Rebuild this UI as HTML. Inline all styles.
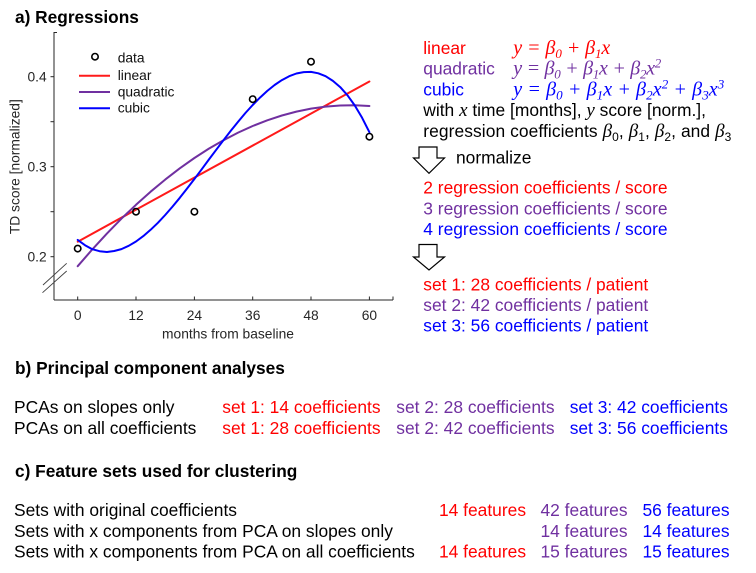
<!DOCTYPE html>
<html>
<head>
<meta charset="utf-8">
<style>
  html,body{margin:0;padding:0;background:#fff;}
  svg{display:block;}
  .t{font-family:"Liberation Sans",Arial,sans-serif;font-size:17.4px;fill:#000;}
  .h{font-family:"Liberation Sans",Arial,sans-serif;font-size:17.3px;font-weight:bold;fill:#000;}
  .c{font-family:"Liberation Sans",Arial,sans-serif;font-size:13.8px;fill:#262626;}
  .m{font-family:"Liberation Serif","DejaVu Serif",serif;font-style:italic;}
  .r{fill:#ff0000;}
  .p{fill:#7030a0;}
  .b{fill:#0000ff;}
</style>
</head>
<body>
<svg width="756" height="573" viewBox="0 0 756 573" xmlns="http://www.w3.org/2000/svg">
  <rect width="756" height="573" fill="#fff"/>

  <!-- a) title -->
  <text class="h" x="15" y="23">a) Regressions</text>

  <!-- axes -->
  <g stroke="#262626" stroke-width="1" fill="none">
    <line x1="54" y1="32" x2="54" y2="300"/>
    <line x1="54" y1="300" x2="393" y2="300"/>
    <line x1="54" y1="32.5" x2="57" y2="32.5"/>
    <line x1="50.5" y1="76.7" x2="54" y2="76.7"/>
    <line x1="50.5" y1="121.7" x2="54" y2="121.7"/>
    <line x1="50.5" y1="166.7" x2="54" y2="166.7"/>
    <line x1="50.5" y1="211.7" x2="54" y2="211.7"/>
    <line x1="50.5" y1="256.7" x2="54" y2="256.7"/>
    <line x1="77.7" y1="296.5" x2="77.7" y2="300"/>
    <line x1="136" y1="296.5" x2="136" y2="300"/>
    <line x1="194.4" y1="296.5" x2="194.4" y2="300"/>
    <line x1="252.7" y1="296.5" x2="252.7" y2="300"/>
    <line x1="311" y1="296.5" x2="311" y2="300"/>
    <line x1="369.4" y1="296.5" x2="369.4" y2="300"/>
    <line x1="393" y1="296.5" x2="393" y2="300"/>
  </g>
  <!-- axis break -->
  <g stroke="#404040" stroke-width="0.9">
    <line x1="43" y1="285" x2="66.7" y2="263.3"/>
    <line x1="42.5" y1="292.7" x2="66.7" y2="271"/>
  </g>

  <!-- tick labels -->
  <text class="c" x="46.7" y="81.7" text-anchor="end">0.4</text>
  <text class="c" x="46.7" y="171.7" text-anchor="end">0.3</text>
  <text class="c" x="46.7" y="261.7" text-anchor="end">0.2</text>
  <text class="c" x="77.7" y="320" text-anchor="middle">0</text>
  <text class="c" x="136" y="320" text-anchor="middle">12</text>
  <text class="c" x="194.4" y="320" text-anchor="middle">24</text>
  <text class="c" x="252.7" y="320" text-anchor="middle">36</text>
  <text class="c" x="311" y="320" text-anchor="middle">48</text>
  <text class="c" x="369.4" y="320" text-anchor="middle">60</text>
  <text class="c" x="228" y="338.5" text-anchor="middle">months from baseline</text>
  <text class="c" x="0" y="0" text-anchor="middle" transform="translate(19.5,166.7) rotate(-90)">TD score [normalized]</text>

  <!-- series -->
  <g fill="none" stroke-width="2" stroke-linejoin="round" stroke-linecap="round">
    <line x1="77.7" y1="241.7" x2="369.4" y2="81.5" stroke="#ff1a1a"/>
    <polyline stroke="#7030a0" points="77.7,266.2 92.3,249.4 106.9,233.6 121.4,218.7 136.0,204.8 150.6,191.7 165.2,179.6 179.8,168.3 194.4,158.0 208.9,148.6 223.5,140.2 238.1,132.6 252.7,126.0 267.3,120.3 281.9,115.5 296.4,111.6 311.0,108.6 325.6,106.6 340.2,105.5 354.8,105.3 369.4,106.0"/>
    <polyline stroke="#0000ff" points="77.7,239.9 85,245.2 92.3,249.2 99.6,251.2 106.9,252.0 114.2,251.0 121.4,249.1 128.7,245.8 136.0,241.5 143.3,236.1 150.6,229.8 157.9,222.8 165.2,215.0 172.5,206.6 179.8,197.8 187.1,188.5 194.4,179.0 201.7,169.3 208.9,159.5 216.2,149.8 223.5,140.2 230.8,130.8 238.1,121.7 245.4,113.0 252.7,105.0 260,97.6 267.3,90.9 274.6,85.0 281.9,80.1 289.2,76.2 296.4,73.5 303.7,72.1 311.0,71.9 318.3,73.3 325.6,76.2 332.9,80.9 340.2,87.1 347.5,95.3 354.8,105.5 362.1,117.8 369.4,132.2"/>
  </g>
  <!-- data -->
  <g fill="none" stroke="#000" stroke-width="1.6">
    <circle cx="77.7" cy="248.6" r="3.2"/>
    <circle cx="136" cy="211.7" r="3.2"/>
    <circle cx="194.4" cy="211.7" r="3.2"/>
    <circle cx="252.7" cy="99.2" r="3.2"/>
    <circle cx="311" cy="61.7" r="3.2"/>
    <circle cx="369.4" cy="136.7" r="3.2"/>
  </g>

  <!-- legend -->
  <circle cx="95" cy="56.7" r="3.2" fill="none" stroke="#000" stroke-width="1.6"/>
  <line x1="79" y1="75.7" x2="110" y2="75.7" stroke="#ff1a1a" stroke-width="2"/>
  <line x1="79" y1="92" x2="110" y2="92" stroke="#7030a0" stroke-width="2"/>
  <line x1="79" y1="108.3" x2="110" y2="108.3" stroke="#0000ff" stroke-width="2"/>
  <text class="c" x="117.7" y="62.5" style="fill:#111">data</text>
  <text class="c" x="117.7" y="80" style="fill:#111">linear</text>
  <text class="c" x="117.7" y="96.3" style="fill:#111">quadratic</text>
  <text class="c" x="117.7" y="112.7" style="fill:#111">cubic</text>

  <!-- right block -->
  <text class="t r" x="423.3" y="54">linear</text>
  <text class="t p" x="423.3" y="74.7">quadratic</text>
  <text class="t b" x="423.3" y="95.4">cubic</text>

  <text class="m r" x="513.3" y="54" font-size="20" textLength="97" lengthAdjust="spacing">y = β<tspan font-size="13" dy="4">0</tspan><tspan dy="-4"> + β</tspan><tspan font-size="13" dy="4">1</tspan><tspan dy="-4">x</tspan></text>
  <text class="m p" x="513.3" y="74.7" font-size="20" textLength="148" lengthAdjust="spacing">y = β<tspan font-size="13" dy="4">0</tspan><tspan dy="-4"> + β</tspan><tspan font-size="13" dy="4">1</tspan><tspan dy="-4">x + β</tspan><tspan font-size="13" dy="4">2</tspan><tspan dy="-4">x</tspan><tspan font-size="13" dy="-7">2</tspan></text>
  <text class="m b" x="513.3" y="95.4" font-size="20" textLength="211" lengthAdjust="spacing">y = β<tspan font-size="13" dy="4">0</tspan><tspan dy="-4"> + β</tspan><tspan font-size="13" dy="4">1</tspan><tspan dy="-4">x + β</tspan><tspan font-size="13" dy="4">2</tspan><tspan dy="-4">x</tspan><tspan font-size="13" dy="-7">2</tspan><tspan dy="7"> + β</tspan><tspan font-size="13" dy="4">3</tspan><tspan dy="-4">x</tspan><tspan font-size="13" dy="-7">3</tspan></text>

  <text class="t" x="423.3" y="116.1">with <tspan class="m" font-size="19">x</tspan> time [months], <tspan class="m" font-size="19">y</tspan> score [norm.],</text>
  <text class="t" x="423.3" y="136.8" textLength="308" lengthAdjust="spacing">regression coefficients <tspan class="m" font-size="19">β</tspan><tspan font-size="12" dy="4">0</tspan><tspan dy="-4">, </tspan><tspan class="m" font-size="19">β</tspan><tspan font-size="12" dy="4">1</tspan><tspan dy="-4">, </tspan><tspan class="m" font-size="19">β</tspan><tspan font-size="12" dy="4">2</tspan><tspan dy="-4">, and </tspan><tspan class="m" font-size="19">β</tspan><tspan font-size="12" dy="4">3</tspan></text>

  <!-- arrows -->
  <polygon points="419,147 437,147 437,158 444.5,158 429,173.3 413.5,158 419,158" fill="#fff" stroke="#000" stroke-width="1.2" stroke-linejoin="miter"/>
  <text class="t" x="456" y="163.3">normalize</text>

  <text class="t r" x="423.3" y="193.3">2 regression coefficients / score</text>
  <text class="t p" x="423.3" y="214.3">3 regression coefficients / score</text>
  <text class="t b" x="423.3" y="235">4 regression coefficients / score</text>

  <polygon points="419,244.5 437,244.5 437,257 444.5,257 429,270 413.5,257 419,257" fill="#fff" stroke="#000" stroke-width="1.2" stroke-linejoin="miter"/>

  <text class="t r" x="423.3" y="290.7">set 1: 28 coefficients / patient</text>
  <text class="t p" x="423.3" y="311">set 2: 42 coefficients / patient</text>
  <text class="t b" x="423.3" y="331.7">set 3: 56 coefficients / patient</text>

  <!-- b) -->
  <text class="h" x="15" y="374">b) Principal component analyses</text>
  <text class="t" x="14" y="413">PCAs on slopes only</text>
  <text class="t r" x="222.3" y="413">set 1: 14 coefficients</text>
  <text class="t p" x="396.3" y="413">set 2: 28 coefficients</text>
  <text class="t b" x="569.7" y="413">set 3: 42 coefficients</text>
  <text class="t" x="14" y="434">PCAs on all coefficients</text>
  <text class="t r" x="222.3" y="434">set 1: 28 coefficients</text>
  <text class="t p" x="396.3" y="434">set 2: 42 coefficients</text>
  <text class="t b" x="569.7" y="434">set 3: 56 coefficients</text>

  <!-- c) -->
  <text class="h" x="15" y="477">c) Feature sets used for clustering</text>
  <text class="t" x="14" y="516">Sets with original coefficients</text>
  <text class="t r" x="439" y="516">14 features</text>
  <text class="t p" x="540.5" y="516">42 features</text>
  <text class="t b" x="642.5" y="516">56 features</text>
  <text class="t" x="14" y="537">Sets with x components from PCA on slopes only</text>
  <text class="t p" x="540.5" y="537">14 features</text>
  <text class="t b" x="642.5" y="537">14 features</text>
  <text class="t" x="14" y="557.5">Sets with x components from PCA on all coefficients</text>
  <text class="t r" x="439" y="557.5">14 features</text>
  <text class="t p" x="540.5" y="557.5">15 features</text>
  <text class="t b" x="642.5" y="557.5">15 features</text>
</svg>
</body>
</html>
